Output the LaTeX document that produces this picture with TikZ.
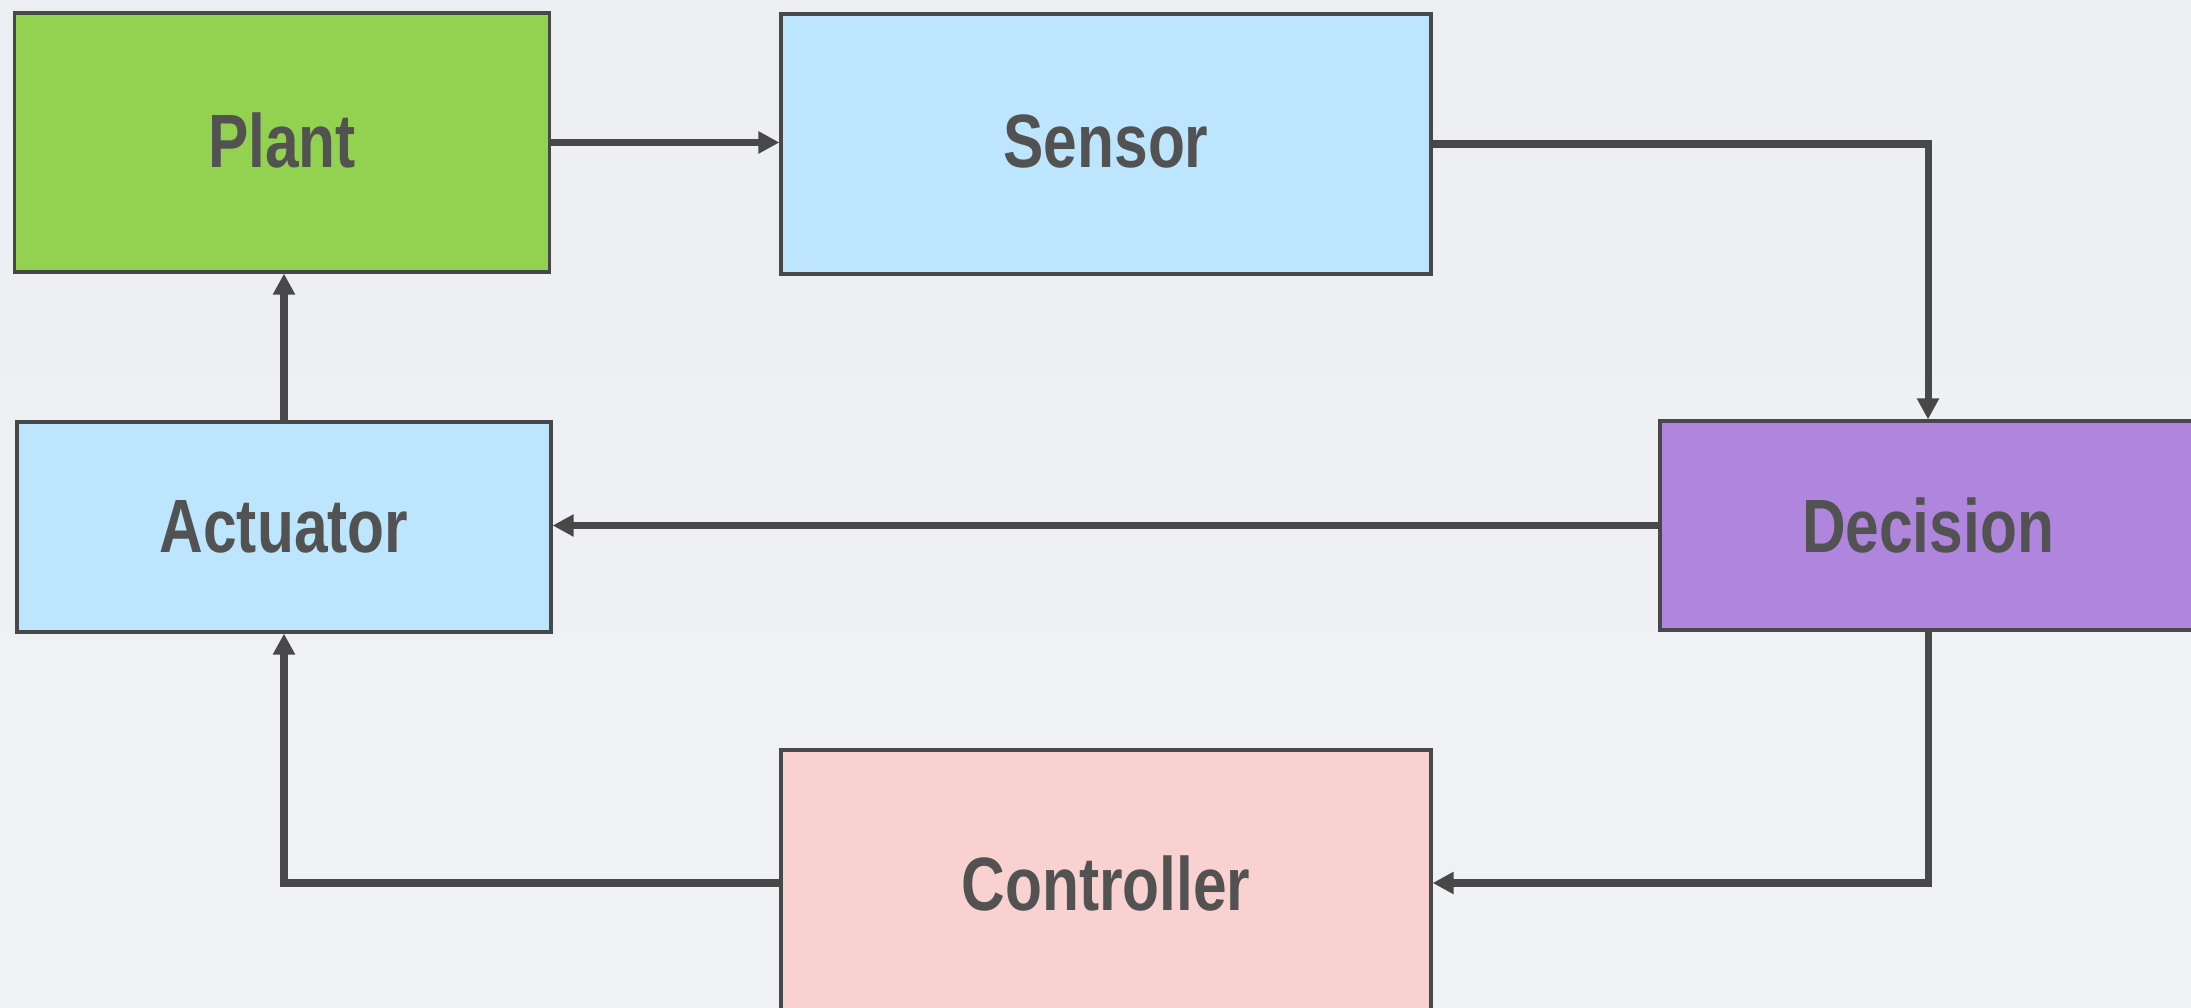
\documentclass[tikz,border=0pt]{standalone}
\usepackage{fontspec}
\setmainfont[FakeStretch=0.8]{Liberation Sans}
\usepackage{tikz}
\usetikzlibrary{calc}
\usetikzlibrary{arrows.meta}

\definecolor{fondo}{HTML}{ECEEF1}
\definecolor{fondoclaro}{HTML}{F1F2F5}
\definecolor{borde}{HTML}{484848}
\definecolor{texto}{HTML}{525252}
\definecolor{verde}{HTML}{93D250}
\definecolor{celeste}{HTML}{BDE5FD}
\definecolor{lila}{HTML}{AF85DD}
\definecolor{rosa}{HTML}{F9D1D1}

\begin{document}
\begin{tikzpicture}[
    bloque/.style={draw=borde, line width=0.9pt, inner sep=0pt, text=texto,
      font=\bfseries\fontsize{21.5}{24}\selectfont},
    flecha/.style={draw=borde, line width=2pt, -{Triangle[length=6pt,width=6pt]}}
  ]
  \useasboundingbox (0,0) rectangle (21.91,10.07);
  \clip (0,0) rectangle (21.91,10.07);
  \shade [top color=fondo, bottom color=fondoclaro] (0,0) rectangle (21.91,10.07); % fondo

  % bloques
  \node [bloque, fill=verde, minimum width=5.35cm, minimum height=2.59cm] (plant) at (2.82,8.645) {\raisebox{1.5pt}{Plant}};
  \node [bloque, fill=celeste, minimum width=6.50cm, minimum height=2.60cm] (sensor) at (11.06,8.63) {\raisebox{1.5pt}{Sensor}};
  \node [bloque, fill=celeste, minimum width=5.34cm, minimum height=2.10cm] (actuator) at (2.84,4.80) {Actuator};
  \node [bloque, fill=lila, minimum width=5.36cm, minimum height=2.09cm] (decision) at (19.28,4.815) {Decision};
  \node [bloque, fill=rosa, minimum width=6.50cm, minimum height=2.66cm] (controller) at (11.06,1.24) {Controller};

  % lazo
  \draw [flecha] (plant.east) -- (plant.east -| sensor.west);
  \draw [flecha] (sensor.east) -| (decision.north);
  \draw [flecha] (decision.west) -- (decision.west -| actuator.east);
  \draw [flecha] (decision.south) |- (controller.east);
  \draw [flecha] (controller.west) -| (actuator.south);
  \draw [flecha] (actuator.north) -- (actuator.north |- plant.south);
\end{tikzpicture}
\end{document}
